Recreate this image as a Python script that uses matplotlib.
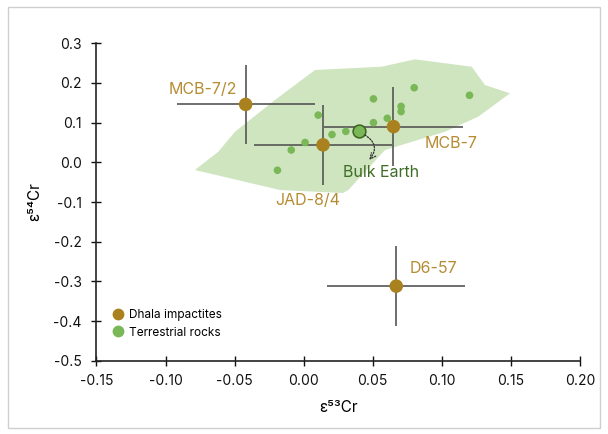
import matplotlib
matplotlib.use("Agg")
import matplotlib.pyplot as plt
from matplotlib.patches import Polygon, Rectangle
from matplotlib.lines import Line2D

plt.rcParams['font.family'] = ['Inter', 'DejaVu Sans']

# Dhala impactites: name, e53Cr, e54Cr, 2SE
dhala_names = ["MCB-7/2", "JAD-8/4", "MCB-7", "D6-57"]
dhala_x = [-0.042, 0.014, 0.065, 0.067]
dhala_y = [0.146, 0.044, 0.090, -0.312]
dhala_xerr = [0.05, 0.05, 0.05, 0.05]
dhala_yerr = [0.10, 0.10, 0.10, 0.10]

# Terrestrial rocks
terr_x = [-0.019, -0.009, 0.001, 0.0105, 0.0205, 0.0305, 0.0505, 0.0505,
          0.0605, 0.0705, 0.0705, 0.080, 0.120]
terr_y = [-0.020, 0.031, 0.050, 0.119, 0.070, 0.078, 0.160, 0.100,
          0.111, 0.141, 0.128, 0.188, 0.169]

# Bulk Earth composition
bulk_x, bulk_y = 0.040, 0.078

# Field of terrestrial samples
field_x = [-0.0787, -0.0618, -0.0497, -0.0208, 0.0082, 0.0564, 0.0805, 0.1216,
           0.1312, 0.1493, 0.1263, 0.1022, 0.0588, 0.0456, 0.0323, 0.0284, -0.0171]
field_y = [-0.0194, 0.0267, 0.0771, 0.157, 0.2328, 0.241, 0.2596, 0.241,
           0.1949, 0.1739, 0.115, 0.0771, 0.031, -0.0194, -0.0698, -0.0774, -0.0698]

x_ticks = [-0.15, -0.10, -0.05, 0.00, 0.05, 0.10, 0.15, 0.20]
y_ticks = [0.3, 0.2, 0.1, 0.0, -0.1, -0.2, -0.3, -0.4, -0.5]

C_DHALA = "#a9821f"
C_DHALA_TXT = "#b68c33"
C_TERR = "#7ab857"
C_FIELD = "#cee5c0"
C_BULK_EDGE = "#3a6420"
C_BULK_TXT = "#3f6d27"
C_ERR = "#555555"

fig = plt.figure(figsize=(6.08, 4.34), dpi=100)
ax = fig.add_axes([0.1586, 0.1689, 0.954 - 0.1586, 0.9002 - 0.1689])

# Figure border
fig.patches.append(Rectangle((8 / 608, 6 / 434), 592 / 608, 421 / 434,
                             transform=fig.transFigure, fill=False,
                             edgecolor="#cfcfcf", linewidth=1.0))

ax.add_patch(Polygon(list(zip(field_x, field_y)), closed=True,
                     facecolor=C_FIELD, edgecolor="none", zorder=1))

ax.errorbar(dhala_x, dhala_y, xerr=dhala_xerr, yerr=dhala_yerr, fmt="none",
            ecolor=C_ERR, elinewidth=1.2, capsize=0, zorder=2)

ax.scatter(terr_x, terr_y, s=30, color=C_TERR, edgecolors="none", zorder=3)
ax.scatter([bulk_x], [bulk_y], s=85, color=C_TERR, edgecolors=C_BULK_EDGE,
           linewidths=1.1, zorder=4)
ax.scatter(dhala_x, dhala_y, s=95, color=C_DHALA, edgecolors="none", zorder=5)

# Sample labels
lab_fs = 11.5
ax.text(-0.048, 0.184, dhala_names[0], color=C_DHALA_TXT, fontsize=lab_fs,
        ha="right", va="center")
ax.text(0.003, -0.095, dhala_names[1], color=C_DHALA_TXT, fontsize=lab_fs,
        ha="center", va="center")
ax.text(0.0873, 0.048, dhala_names[2], color=C_DHALA_TXT, fontsize=lab_fs,
        ha="left", va="center")
ax.text(0.0764, -0.267, dhala_names[3], color=C_DHALA_TXT, fontsize=lab_fs,
        ha="left", va="center")
ax.text(0.0282, -0.025, "Bulk Earth", color=C_BULK_TXT, fontsize=lab_fs,
        ha="left", va="center")

ax.annotate("", xy=(0.0475, 0.006), xytext=(0.0443, 0.069),
            arrowprops=dict(arrowstyle="->", linestyle=(0, (1.2, 1.2)),
                            color="#333333", lw=0.9,
                            connectionstyle="arc3,rad=-0.55",
                            shrinkA=0, shrinkB=0), zorder=6)

ax.set_xlim(-0.15, 0.20)
ax.set_ylim(-0.5, 0.3)
ax.set_xticks(x_ticks)
ax.set_yticks(y_ticks)
ax.set_xticklabels([f"{v:.2f}" for v in x_ticks])
ax.set_yticklabels([f"{v:.1f}" for v in y_ticks])
ax.tick_params(direction="inout", length=7, width=1.0, labelsize=10,
               colors="#111111", pad=6)
ax.tick_params(axis="y", pad=7)

for side in ("top", "right"):
    ax.spines[side].set_visible(False)
for side in ("left", "bottom"):
    ax.spines[side].set_linewidth(1.2)
    ax.spines[side].set_color("#222222")

ax.set_xlabel("ε⁵³Cr", fontsize=11, labelpad=9)
ax.set_ylabel("ε⁵⁴Cr", fontsize=11, labelpad=8)

handles = [
    Line2D([], [], marker="o", linestyle="none", markersize=8.5,
           markerfacecolor=C_DHALA, markeredgecolor="none", label="Dhala impactites"),
    Line2D([], [], marker="o", linestyle="none", markersize=8.5,
           markerfacecolor=C_TERR, markeredgecolor="none", label="Terrestrial rocks"),
]
ax.legend(handles=handles, loc="lower left", bbox_to_anchor=(0.02, 0.055),
          frameon=False, fontsize=8.5, handletextpad=0.3, labelspacing=0.45,
          borderaxespad=0, handlelength=1.2)

fig.savefig("out.png", dpi=100)
